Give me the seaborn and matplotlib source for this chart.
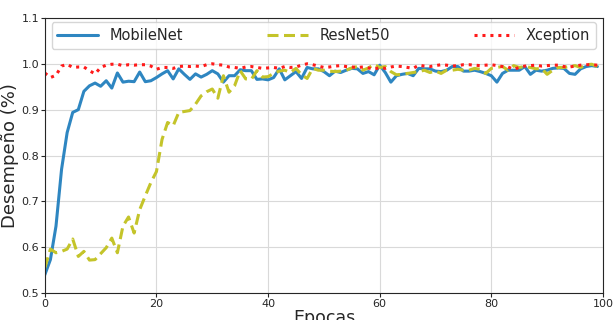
import pandas as pd
import numpy as np
import matplotlib
matplotlib.use("Agg")
import matplotlib.pyplot as plt
import seaborn as sns

# Curvas de desempeño por época
epochs = list(range(100))

mobilenet = [0.540, 0.573, 0.646, 0.770, 0.850, 0.894, 0.900, 0.940, 0.952, 0.958,
             0.951, 0.963, 0.947, 0.980, 0.960, 0.962, 0.961, 0.982, 0.961, 0.963,
             0.970, 0.978, 0.985, 0.967, 0.989, 0.977, 0.966, 0.978, 0.971, 0.977,
             0.985, 0.978, 0.960, 0.974, 0.974, 0.987, 0.985, 0.985, 0.966, 0.967,
             0.965, 0.970, 0.989, 0.965, 0.974, 0.983, 0.968, 0.992, 0.989, 0.989,
             0.983, 0.974, 0.984, 0.981, 0.986, 0.990, 0.989, 0.979, 0.983, 0.976,
             0.997, 0.981, 0.960, 0.974, 0.977, 0.979, 0.974, 0.990, 0.989, 0.989,
             0.984, 0.983, 0.986, 0.994, 0.994, 0.984, 0.984, 0.986, 0.983, 0.979,
             0.974, 0.960, 0.979, 0.986, 0.986, 0.986, 0.994, 0.977, 0.986, 0.984,
             0.986, 0.990, 0.991, 0.990, 0.979, 0.977, 0.989, 0.994, 0.996, 0.994]

resnet50 = [0.555, 0.596, 0.588, 0.591, 0.596, 0.618, 0.580, 0.591, 0.572, 0.573,
            0.586, 0.599, 0.620, 0.588, 0.646, 0.666, 0.631, 0.682, 0.712, 0.741,
            0.765, 0.835, 0.872, 0.865, 0.894, 0.896, 0.898, 0.912, 0.930, 0.939,
            0.945, 0.925, 0.974, 0.938, 0.952, 0.985, 0.967, 0.966, 0.985, 0.971,
            0.972, 0.979, 0.984, 0.986, 0.981, 0.990, 0.976, 0.968, 0.990, 0.986,
            0.986, 0.984, 0.983, 0.984, 0.986, 0.991, 0.994, 0.986, 0.991, 0.999,
            0.992, 0.994, 0.983, 0.976, 0.977, 0.979, 0.981, 0.983, 0.986, 0.981,
            0.984, 0.979, 0.986, 0.986, 0.988, 0.986, 0.986, 0.990, 0.988, 0.979,
            0.990, 0.992, 0.994, 0.986, 0.996, 0.992, 0.994, 0.992, 0.989, 0.990,
            0.977, 0.986, 0.992, 0.992, 0.994, 0.996, 0.992, 0.998, 0.999, 0.994]

xception = [0.980, 0.970, 0.975, 0.995, 0.999, 0.992, 0.993, 0.993, 0.985, 0.978,
            0.992, 0.997, 0.999, 0.999, 0.996, 0.998, 0.997, 0.998, 0.998, 0.995,
            0.988, 0.992, 0.992, 0.990, 0.994, 0.995, 0.994, 0.995, 0.994, 0.998,
            1.000, 0.998, 0.997, 0.993, 0.992, 0.990, 0.993, 0.994, 0.992, 0.990,
            0.991, 0.992, 0.990, 0.994, 0.992, 0.993, 0.997, 1.000, 0.998, 0.995,
            0.992, 0.993, 0.995, 0.996, 0.994, 0.993, 0.992, 0.993, 0.991, 0.988,
            0.992, 0.990, 0.993, 0.995, 0.994, 0.992, 0.990, 0.997, 0.995, 0.994,
            0.996, 0.998, 0.997, 0.995, 0.996, 0.998, 0.998, 0.997, 0.996, 0.997,
            0.998, 0.996, 0.994, 0.993, 0.988, 0.992, 0.995, 0.996, 0.997, 0.995,
            0.996, 0.997, 0.997, 0.994, 0.993, 0.995, 0.997, 0.998, 0.998, 0.997]

models = ['MobileNet', 'ResNet50', 'Xception']

df = pd.DataFrame({
    'Epoca': epochs * 3,
    'Desempeno': mobilenet + resnet50 + xception,
    'Modelo': [m for m in models for _ in epochs],
})

sns.set_style("whitegrid", {'axes.edgecolor': '.15', 'xtick.bottom': True,
                            'ytick.left': True, 'grid.color': '.85'})
plt.rcParams['font.family'] = ['DejaVu Sans']

fig = plt.figure(figsize=(6.14, 3.2), dpi=100)
ax = fig.add_axes([0.073, 0.084, 0.909, 0.860])

palette = {'MobileNet': '#2e86c1', 'ResNet50': '#c4c42a', 'Xception': '#ff1a1a'}
dashes = {'MobileNet': '', 'ResNet50': (3.6, 1.8), 'Xception': (1, 1.6)}

sns.lineplot(data=df, x='Epoca', y='Desempeno', hue='Modelo', style='Modelo',
             palette=palette, dashes=dashes, linewidth=2.2, ax=ax)

ax.set_xlim(0, 100)
ax.set_ylim(0.5, 1.1)
ax.set_xticks(range(0, 101, 20))
ax.set_yticks(np.arange(0.5, 1.11, 0.1))
ax.tick_params(axis='both', labelsize=8, length=3, pad=1, color='.15')
ax.set_xlabel('Epocas', fontsize=12.5, labelpad=0)
ax.set_ylabel('Desempeño (%)', fontsize=13, labelpad=2)

ax.legend(loc='upper left', bbox_to_anchor=(0.012, 0.985, 0.976, 0.0), mode='expand',
          ncol=3, fontsize=10.5, frameon=True, handlelength=2.8, borderaxespad=0)

plt.savefig('out.png', dpi=100)
plt.close()
